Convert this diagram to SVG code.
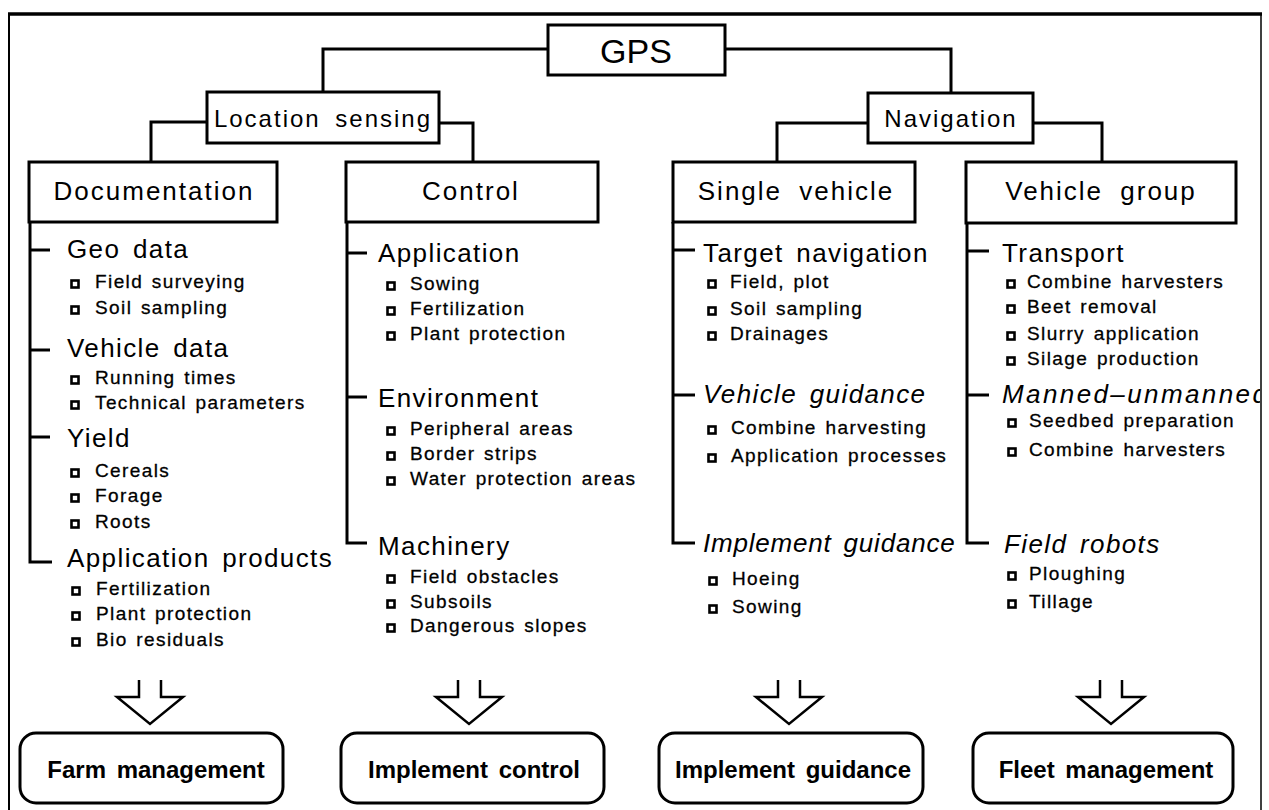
<svg xmlns="http://www.w3.org/2000/svg" width="1269" height="810" viewBox="0 0 1269 810">
<style>
  .ln { fill: none; stroke: #000; stroke-width: 3; stroke-linejoin: miter; }
  .box { fill: #fff; stroke: #000; stroke-width: 3; }
  .rbox { fill: #fff; stroke: #000; stroke-width: 3; }
  .t { font-family: "Liberation Sans", Arial, sans-serif; fill: #000; }
  .gps { font-size: 34px; text-anchor: middle; }
  .lvl1 { font-size: 24px; text-anchor: middle; letter-spacing: 2px; word-spacing: 6px; }
  .head { font-size: 26px; text-anchor: middle; letter-spacing: 2px; word-spacing: 8px; }
  .lab { font-size: 26px; letter-spacing: 1.4px; word-spacing: 4px; }
  .it { font-style: italic; }
  .sub { font-size: 19px; letter-spacing: 1.4px; word-spacing: 2px; stroke: #000; stroke-width: 0.3; }
  .bul { fill: #fff; stroke: #000; stroke-width: 2.6; }
  .out { font-size: 24px; font-weight: bold; text-anchor: middle; word-spacing: 4px; }
  .arr { fill: #fff; stroke: #000; stroke-width: 2.5; stroke-linejoin: miter; }
</style>
<defs>
  <clipPath id="frameClip"><rect x="9" y="14" width="1251" height="796"/></clipPath>
  <rect id="b" class="bul" x="0.5" y="0.5" width="7" height="7"/>
</defs>
<rect x="0" y="0" width="1269" height="810" fill="#fff"/>

<g id="frame">
  <line x1="8" y1="14" x2="1262" y2="14" stroke="#000" stroke-width="3.5"/>
  <line x1="9" y1="14" x2="9" y2="810" stroke="#000" stroke-width="2"/>
  <line x1="1261" y1="14" x2="1261" y2="810" stroke="#000" stroke-width="1.5"/>
</g>

<g id="connectors">
  <polyline class="ln" points="548,49 323,49 323,92"/>
  <polyline class="ln" points="725,49 951,49 951,93"/>
  <polyline class="ln" points="207,122 151,122 151,162"/>
  <polyline class="ln" points="439,123 473,123 473,162"/>
  <polyline class="ln" points="868,123 777,123 777,162"/>
  <polyline class="ln" points="1033,123 1102,123 1102,162"/>
  <!-- column trees -->
  <polyline class="ln" points="30,222 30,562 52,562"/>
  <line class="ln" x1="30" y1="250" x2="50" y2="250"/>
  <line class="ln" x1="30" y1="350" x2="50" y2="350"/>
  <line class="ln" x1="30" y1="437" x2="50" y2="437"/>
  <polyline class="ln" points="347,222 347,543 367,543"/>
  <line class="ln" x1="347" y1="253" x2="367" y2="253"/>
  <line class="ln" x1="347" y1="397" x2="367" y2="397"/>
  <polyline class="ln" points="673,222 673,543 695,543"/>
  <line class="ln" x1="673" y1="250" x2="695" y2="250"/>
  <line class="ln" x1="673" y1="395" x2="695" y2="395"/>
  <polyline class="ln" points="967,222 967,543 989,543"/>
  <line class="ln" x1="967" y1="251" x2="989" y2="251"/>
  <line class="ln" x1="967" y1="395" x2="989" y2="395"/>
  <!-- outcome arrows -->
  <path class="arr" d="M139,680 V697 H117 L150,724 L183,697 H161 V680"/>
  <path class="arr" d="M458,680 V697 H436 L469,724 L502,697 H480 V680"/>
  <path class="arr" d="M778,680 V697 H756 L789,724 L822,697 H800 V680"/>
  <path class="arr" d="M1100,680 V697 H1078 L1111,724 L1144,697 H1122 V680"/>
</g>

<g id="gps">
  <rect class="box" x="548" y="25" width="177" height="50"/>
  <text class="t gps" x="636" y="63">GPS</text>
</g>
<g id="location-sensing">
  <rect class="box" x="207" y="92" width="232" height="51"/>
  <text class="t lvl1" x="323" y="127">Location sensing</text>
</g>
<g id="navigation">
  <rect class="box" x="868" y="93" width="165" height="50"/>
  <text class="t lvl1" x="951" y="127">Navigation</text>
</g>

<g id="documentation">
  <rect class="box" x="29" y="162" width="248" height="60"/>
  <text class="t head" x="154" y="200">Documentation</text>
  <text class="t lab" x="67" y="258">Geo data</text>
  <use href="#b" x="71" y="280"/><text class="t sub" x="95" y="288">Field surveying</text>
  <use href="#b" x="71" y="306"/><text class="t sub" x="95" y="314">Soil sampling</text>
  <text class="t lab" x="67" y="357">Vehicle data</text>
  <use href="#b" x="71" y="376"/><text class="t sub" x="95" y="384">Running times</text>
  <use href="#b" x="71" y="401"/><text class="t sub" x="95" y="409">Technical parameters</text>
  <text class="t lab" x="67" y="447">Yield</text>
  <use href="#b" x="71" y="469"/><text class="t sub" x="95" y="477">Cereals</text>
  <use href="#b" x="71" y="494"/><text class="t sub" x="95" y="502">Forage</text>
  <use href="#b" x="71" y="520"/><text class="t sub" x="95" y="528">Roots</text>
  <text class="t lab" x="67" y="567">Application products</text>
  <use href="#b" x="72" y="587"/><text class="t sub" x="96" y="595">Fertilization</text>
  <use href="#b" x="72" y="612"/><text class="t sub" x="96" y="620">Plant protection</text>
  <use href="#b" x="72" y="638"/><text class="t sub" x="96" y="646">Bio residuals</text>
</g>

<g id="control">
  <rect class="box" x="346" y="162" width="252" height="60"/>
  <text class="t head" x="471" y="200">Control</text>
  <text class="t lab" x="378" y="262">Application</text>
  <use href="#b" x="387" y="282"/><text class="t sub" x="410" y="290">Sowing</text>
  <use href="#b" x="387" y="307"/><text class="t sub" x="410" y="315">Fertilization</text>
  <use href="#b" x="387" y="332"/><text class="t sub" x="410" y="340">Plant protection</text>
  <text class="t lab" x="378" y="407">Environment</text>
  <use href="#b" x="387" y="427"/><text class="t sub" x="410" y="435">Peripheral areas</text>
  <use href="#b" x="387" y="452"/><text class="t sub" x="410" y="460">Border strips</text>
  <use href="#b" x="387" y="477"/><text class="t sub" x="410" y="485">Water protection areas</text>
  <text class="t lab" x="378" y="555">Machinery</text>
  <use href="#b" x="387" y="575"/><text class="t sub" x="410" y="583">Field obstacles</text>
  <use href="#b" x="387" y="600"/><text class="t sub" x="410" y="608">Subsoils</text>
  <use href="#b" x="387" y="624"/><text class="t sub" x="410" y="632">Dangerous slopes</text>
</g>

<g id="single-vehicle">
  <rect class="box" x="673" y="162" width="242" height="60"/>
  <text class="t head" x="796" y="200">Single vehicle</text>
  <text class="t lab" x="703" y="262">Target navigation</text>
  <use href="#b" x="708" y="280"/><text class="t sub" x="730" y="288">Field, plot</text>
  <use href="#b" x="708" y="307"/><text class="t sub" x="730" y="315">Soil sampling</text>
  <use href="#b" x="708" y="332"/><text class="t sub" x="730" y="340">Drainages</text>
  <text class="t lab it" x="703" y="403">Vehicle guidance</text>
  <use href="#b" x="708" y="426"/><text class="t sub" x="731" y="434">Combine harvesting</text>
  <use href="#b" x="708" y="454"/><text class="t sub" x="731" y="462">Application processes</text>
  <text class="t lab it" x="703" y="552" style="letter-spacing:0.8px">Implement guidance</text>
  <use href="#b" x="709" y="577"/><text class="t sub" x="732" y="585">Hoeing</text>
  <use href="#b" x="709" y="605"/><text class="t sub" x="732" y="613">Sowing</text>
</g>

<g id="vehicle-group">
  <rect class="box" x="966" y="162" width="270" height="61"/>
  <text class="t head" x="1101" y="200">Vehicle group</text>
  <text class="t lab" x="1002" y="262">Transport</text>
  <use href="#b" x="1007" y="280"/><text class="t sub" x="1027" y="288">Combine harvesters</text>
  <use href="#b" x="1007" y="305"/><text class="t sub" x="1027" y="313">Beet removal</text>
  <use href="#b" x="1007" y="332"/><text class="t sub" x="1027" y="340">Slurry application</text>
  <use href="#b" x="1007" y="357"/><text class="t sub" x="1027" y="365">Silage production</text>
  <text class="t lab it" x="1002" y="403" clip-path="url(#frameClip)" style="letter-spacing:2.4px">Manned–unmanned</text>
  <use href="#b" x="1008" y="419"/><text class="t sub" x="1029" y="427">Seedbed preparation</text>
  <use href="#b" x="1008" y="448"/><text class="t sub" x="1029" y="456">Combine harvesters</text>
  <text class="t lab it" x="1004" y="553">Field robots</text>
  <use href="#b" x="1008" y="572"/><text class="t sub" x="1029" y="580">Ploughing</text>
  <use href="#b" x="1008" y="600"/><text class="t sub" x="1029" y="608">Tillage</text>
</g>

<g id="farm-management">
  <rect class="rbox" x="20" y="733" width="263" height="70" rx="16"/>
  <text class="t out" x="156" y="778">Farm management</text>
</g>
<g id="implement-control">
  <rect class="rbox" x="341" y="733" width="263" height="70" rx="16"/>
  <text class="t out" x="474" y="778">Implement control</text>
</g>
<g id="implement-guidance">
  <rect class="rbox" x="659" y="733" width="264" height="70" rx="16"/>
  <text class="t out" x="793" y="778">Implement guidance</text>
</g>
<g id="fleet-management">
  <rect class="rbox" x="973" y="733" width="260" height="70" rx="16"/>
  <text class="t out" x="1106" y="778">Fleet management</text>
</g>
</svg>
